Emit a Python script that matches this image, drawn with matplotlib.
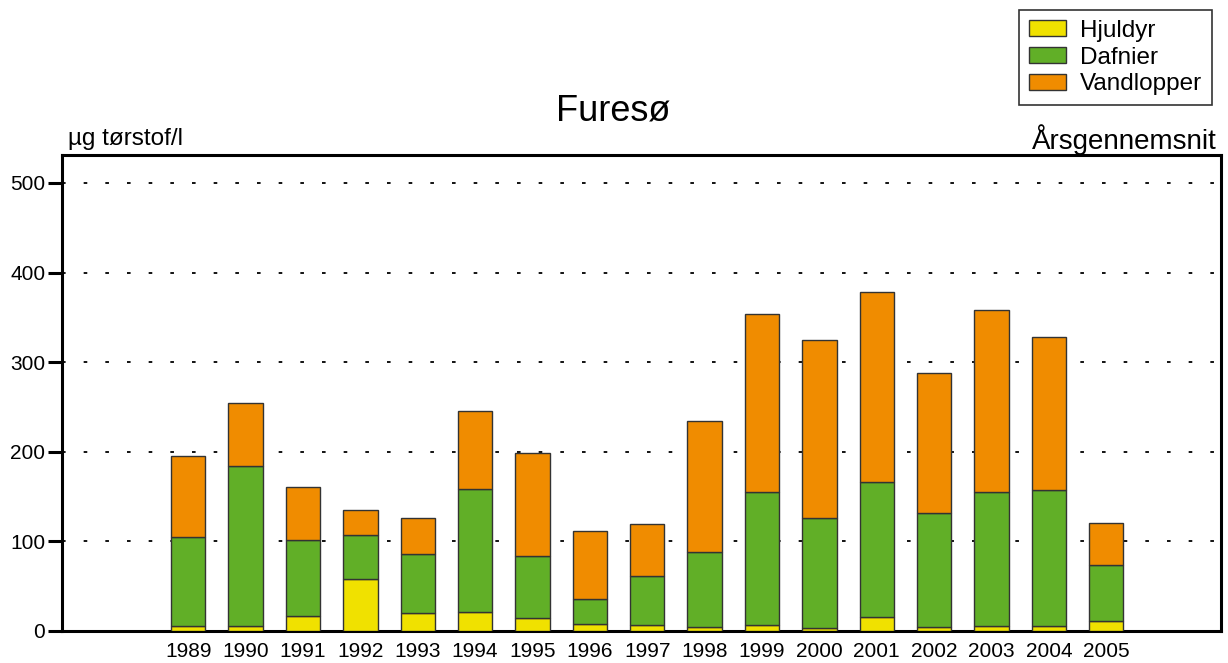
import numpy as np
import matplotlib
matplotlib.use('Agg')
from matplotlib import pyplot as plt

plt.rcParams['font.family'] = ['Liberation Sans', 'DejaVu Sans']

years = np.arange(1989, 2006)
hjuldyr = [5, 5, 17, 58, 20, 21, 14, 8, 7, 4.5, 7, 3.3, 16, 4.5, 5, 5, 11]
dafnier_top = [105, 184, 102, 107, 86, 158, 84, 36, 61, 88, 155, 126, 166, 132, 155, 157, 74]
totals = [195, 254, 161, 135, 126, 245, 199, 112, 119, 234, 354, 325, 378, 288, 358, 328, 121]

hj = np.array(hjuldyr)
da = np.array(dafnier_top) - hj
va = np.array(totals) - np.array(dafnier_top)

fig = plt.figure(figsize=(12.28, 6.63), dpi=100)
ax = fig.add_axes([0.0505, 0.0483, 0.9438, 0.7177])

w = 0.6
ec = '#333333'
ax.bar(years, hj, w, color='#F0E100', edgecolor=ec, linewidth=1, label='Hjuldyr', zorder=3)
ax.bar(years, da, w, bottom=hj, color='#61AF27', edgecolor=ec, linewidth=1, label='Dafnier', zorder=3)
ax.bar(years, va, w, bottom=hj + da, color='#F08C00', edgecolor=ec, linewidth=1, label='Vandlopper', zorder=3)

ax.set_xlim(1986.8, 2007.0)
ax.set_ylim(0, 531)
ax.set_yticks([0, 100, 200, 300, 400, 500])
ax.set_xticks(years)
ax.tick_params(axis='y', labelsize=15, length=10, width=2.2, direction='out', pad=2)
ax.tick_params(axis='x', labelsize=15, length=0, pad=8)
for s in ax.spines.values():
    s.set_linewidth(2.2)
ax.grid(axis='y', linestyle=(0, (2, 10)), color='black', linewidth=1.3, zorder=0)
ax.set_axisbelow(True)

fig.text(0.499, 0.832, 'Furesø', fontsize=26, ha='center', va='center')
fig.text(0.055, 0.79, 'µg tørstof/l', fontsize=17.5, ha='left', va='center')
fig.text(0.991, 0.79, 'Årsgennemsnit', fontsize=20, ha='right', va='center')

# legend box sits above the plot, top right corner of the figure
leg = fig.legend(loc='upper right', bbox_to_anchor=(0.987, 0.985), borderaxespad=0,
                 fontsize=17.5, frameon=True, fancybox=False, edgecolor='black',
                 handlelength=1.5, handleheight=0.6, labelspacing=0.2,
                 borderpad=0.4, handletextpad=0.6)
leg.get_frame().set_linewidth(1.2)

fig.savefig('out.png', dpi=100)
